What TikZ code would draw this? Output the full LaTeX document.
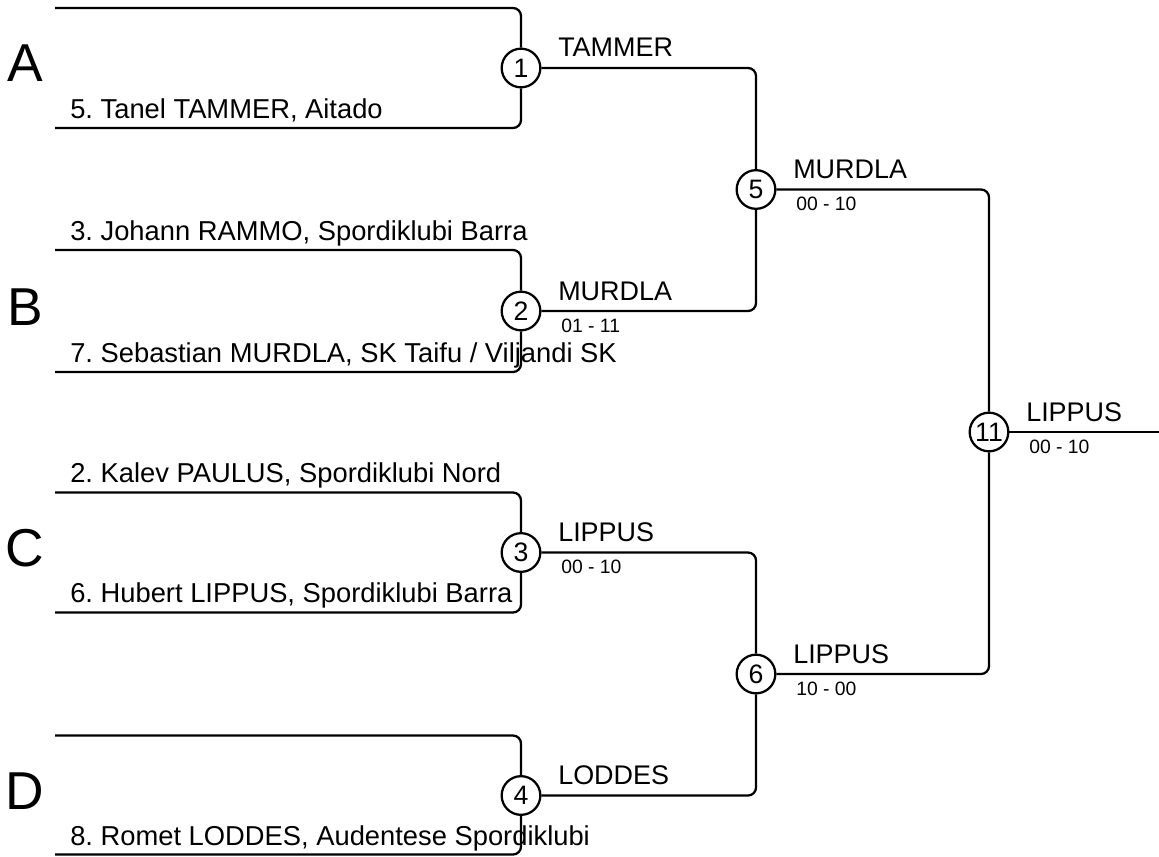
\documentclass[tikz,border=0pt]{standalone}
\usepackage{fontspec}
\setmainfont{Liberation Sans}
\usepackage{tikz}
\frenchspacing
\tikzset{
    bracket/.style={
        draw=black,
        line width=1.7pt,
        rounded corners=6pt
    },
    matchnode/.style={
        circle,
        draw=black,
        line width=1.7pt,
        fill=white,
        minimum size=29pt,
        inner sep=0pt,
        font=\fontsize{20}{20}\selectfont
    },
    namelabel/.style={
        anchor=base west,
        inner sep=0pt,
        font=\fontsize{20.5}{24}\selectfont
    },
    winlabel/.style={
        anchor=base west,
        inner sep=0pt,
        font=\fontsize{20.2}{24}\selectfont
    },
    scorelabel/.style={
        anchor=base west,
        inner sep=0pt,
        font=\fontsize{14.5}{17}\selectfont
    },
    poollabel/.style={
        anchor=base,
        inner sep=0pt,
        font=\fontsize{40}{48}\selectfont
    }
}
\begin{document}
\begin{tikzpicture}[x=0.75pt, y=-0.75pt]
    \useasboundingbox (0,0) rectangle (1159,856);
    % matches
    \node[matchnode] (m1) at (521,68) {1};
    \node[matchnode] (m2) at (521,311) {2};
    \node[matchnode] (m3) at (521,552.5) {3};
    \node[matchnode] (m4) at (521,795.5) {4};
    \node[matchnode] (m5) at (756,189.5) {5};
    \node[matchnode] (m6) at (756,674) {6};
    \node[matchnode] (m11) at (989,432) {11};
    % line starts
    \coordinate (a1) at (55,8);
    \coordinate (a2) at (55,128);
    \coordinate (b1) at (55,250);
    \coordinate (b2) at (55,372);
    \coordinate (c1) at (55,492.5);
    \coordinate (c2) at (55,612.5);
    \coordinate (d1) at (55,735.5);
    \coordinate (d2) at (55,854.5);
    \coordinate (out) at (1159,432);

    \draw[bracket] (a1) -| (m1);
    \draw[bracket] (a2) -| (m1);
    \draw[bracket] (b1) -| (m2);
    \draw[bracket] (b2) -| (m2);
    \draw[bracket] (c1) -| (m3);
    \draw[bracket] (c2) -| (m3);
    \draw[bracket] (d1) -| (m4);
    \draw[bracket] (d2) -| (m4);
    \draw[bracket] (m1) -| (m5);
    \draw[bracket] (m2) -| (m5);
    \draw[bracket] (m3) -| (m6);
    \draw[bracket] (m4) -| (m6);
    \draw[bracket] (m5) -| (m11);
    \draw[bracket] (m6) -| (m11);
    \draw[bracket] (m11) -- (out);

    % pools
    \node[poollabel] (poolA) at (25,82) {A};
    \node[poollabel] (poolB) at (25,325) {B};
    \node[poollabel] (poolC) at (25,566.5) {C};
    \node[poollabel] (poolD) at (25,809.5) {D};

    % athletes
    \node[namelabel] (nA2) at (70,118) {5. Tanel TAMMER, Aitado};
    \node[namelabel] (nB1) at (70,240) {3. Johann RAMMO, Spordiklubi Barra};
    \node[namelabel] (nB2) at (70,362) {7. Sebastian MURDLA, SK Taifu / Viljandi SK};
    \node[namelabel] (nC1) at (70,482.5) {2. Kalev PAULUS, Spordiklubi Nord};
    \node[namelabel] (nC2) at (70,602.5) {6. Hubert LIPPUS, Spordiklubi Barra};
    \node[namelabel] (nD2) at (70,845) {8. Romet LODDES, Audentese Spordiklubi};

    % winners and scores
    \node[winlabel] (w1) at (558,57) {TAMMER};
    \node[winlabel] (w2) at (558,300) {MURDLA};
    \node[scorelabel] (s2) at (561,332) {01 - 11};
    \node[winlabel] (w3) at (558,541.5) {LIPPUS};
    \node[scorelabel] (s3) at (561,573.5) {00 - 10};
    \node[winlabel] (w4) at (558,784.5) {LODDES};
    \node[winlabel] (w5) at (793,178.5) {MURDLA};
    \node[scorelabel] (s5) at (796,210.5) {00 - 10};
    \node[winlabel] (w6) at (793,663) {LIPPUS};
    \node[scorelabel] (s6) at (796,695) {10 - 00};
    \node[winlabel] (w11) at (1026,421) {LIPPUS};
    \node[scorelabel] (s11) at (1029,453) {00 - 10};
\end{tikzpicture}
\end{document}
